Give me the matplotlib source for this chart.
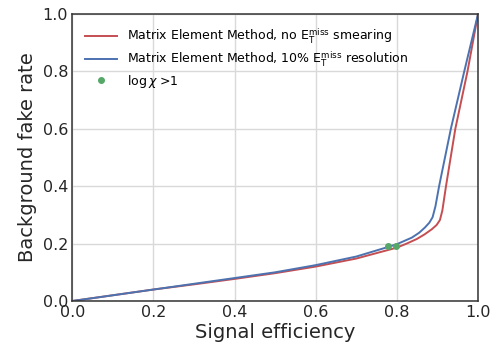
import matplotlib
matplotlib.use("Agg")
import matplotlib.pyplot as plt

# ROC curves
eff_smear = [0.0, 0.1, 0.2, 0.3, 0.4, 0.5, 0.6, 0.7, 0.8, 0.824, 0.849, 0.868,
             0.886, 0.898, 0.906, 0.912, 0.921, 0.944, 0.974, 1.0]
fake_smear = [0.0, 0.02, 0.04, 0.058, 0.077, 0.097, 0.12, 0.148, 0.186, 0.2,
              0.216, 0.232, 0.25, 0.265, 0.282, 0.315, 0.40, 0.60, 0.80, 1.0]

eff_res = [0.0, 0.1, 0.2, 0.3, 0.4, 0.5, 0.6, 0.7, 0.78, 0.8, 0.837, 0.855,
           0.869, 0.88, 0.888, 0.895, 0.904, 0.933, 0.966, 1.0]
fake_res = [0.0, 0.02, 0.04, 0.06, 0.08, 0.10, 0.125, 0.155, 0.189, 0.198,
            0.221, 0.238, 0.256, 0.273, 0.292, 0.33, 0.40, 0.60, 0.80, 1.0]

cut_eff = [0.779, 0.798]
cut_fake = [0.19, 0.19]

plt.rcParams["font.family"] = "DejaVu Sans"

fig, ax = plt.subplots(figsize=(4.99, 3.5), dpi=100)
fig.subplots_adjust(left=0.145, right=0.958, top=0.96, bottom=0.14)

ax.plot(eff_smear, fake_smear, color="#C44E52", lw=1.4,
        label=r"Matrix Element Method, no E$_\mathrm{T}^\mathrm{miss}$ smearing")
ax.plot(eff_res, fake_res, color="#4C72B0", lw=1.4,
        label=r"Matrix Element Method, 10% E$_\mathrm{T}^\mathrm{miss}$ resolution")
ax.plot(cut_eff, cut_fake, "o", color="#55A868", ms=4, lw=0,
        label=r"$\log\chi$ >1")

ax.set_xlim(0, 1)
ax.set_ylim(0, 1)
ax.grid(True, color="#d9d9d9", lw=1)
ax.set_axisbelow(True)
for sp in ax.spines.values():
    sp.set_color("#333333")
    sp.set_linewidth(1.1)
ax.tick_params(length=0, labelsize=11.5, colors="#262626", pad=3)
ax.set_xlabel("Signal efficiency", fontsize=14, color="#262626", labelpad=2)
ax.set_ylabel("Background fake rate", fontsize=14, color="#262626", labelpad=4)

ax.legend(loc="upper left", frameon=False, fontsize=9, handlelength=2.6,
          labelspacing=0.3, borderaxespad=0.6, numpoints=1,
          handletextpad=0.8)

fig.savefig("out.png", dpi=100)
